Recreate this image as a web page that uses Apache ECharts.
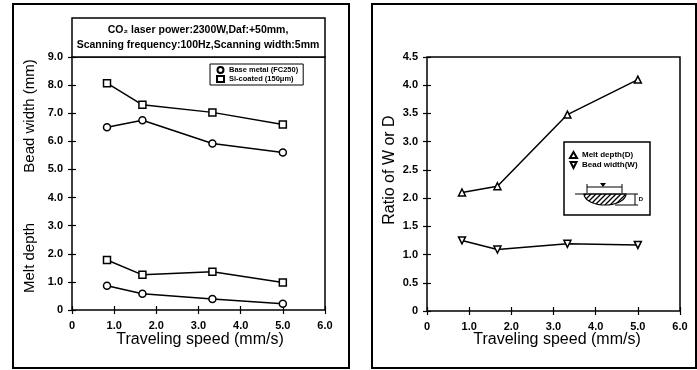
<!DOCTYPE html>
<html>
<head>
<meta charset="utf-8">
<script src="https://cdn.jsdelivr.net/npm/echarts@6/dist/echarts.min.js"></script>
<style>
  html, body { margin: 0; padding: 0; background: #fff; }
  #chart { width: 697px; height: 370px; }
</style>
</head>
<body>
<div id="chart"></div>
<script>
// traveling speed (mm/s)
const speed = [0.83, 1.67, 3.33, 5.0];
// left panel: bead width and melt depth (mm)
const widthBase = [6.5, 6.75, 5.92, 5.6];
const widthSi = [8.07, 7.3, 7.03, 6.6];
const depthBase = [0.86, 0.58, 0.39, 0.22];
const depthSi = [1.78, 1.25, 1.36, 0.98];
// right panel: ratio of W or D
const ratioD = [2.1, 2.21, 3.48, 4.1];
const ratioW = [1.25, 1.09, 1.19, 1.17];

const pairs = ys => speed.map((x, i) => [x, ys[i]]);
const fmt = v => v === 0 ? '0' : v.toFixed(1);
const lbl = { color: '#000', fontFamily: 'Liberation Sans', fontWeight: 'bold', fontSize: 11 };

function xAxes(grid, top) {
  return {
    gridIndex: grid, type: 'value', min: 0, max: 6, interval: 1,
    position: top ? 'top' : 'bottom',
    axisLine: { show: false },
    axisTick: { inside: true, length: 4, lineStyle: { color: '#000', width: 1.2 } },
    axisLabel: top ? { show: false } : Object.assign({ formatter: fmt, margin: 10 }, lbl),
    splitLine: { show: false }
  };
}
function yAxes(grid, max, step, right) {
  return {
    gridIndex: grid, type: 'value', min: 0, max: max, interval: step,
    position: right ? 'right' : 'left',
    axisLine: { show: false },
    axisTick: { inside: true, length: 4, lineStyle: { color: '#000', width: 1.2 } },
    axisLabel: right ? { show: false } : Object.assign({ formatter: fmt, margin: 9 }, lbl),
    splitLine: { show: false }
  };
}
function line(name, data, xi, yi, symbol, size, rotate) {
  return {
    name: name, type: 'line', xAxisIndex: xi, yAxisIndex: yi, data: pairs(data),
    symbol: symbol, symbolSize: size, symbolRotate: rotate || 0,
    lineStyle: { color: '#000', width: 1.5 },
    itemStyle: { color: '#fff', borderColor: '#000', borderWidth: 1.5 },
    animation: false
  };
}

// hatch pattern for the bead sketch
const hatch = document.createElement('canvas');
hatch.width = 5; hatch.height = 5;
const hc = hatch.getContext('2d');
hc.strokeStyle = '#000'; hc.lineWidth = 1.3;
hc.beginPath(); hc.moveTo(0, 5); hc.lineTo(5, 0); hc.moveTo(-1, 1); hc.lineTo(1, -1); hc.moveTo(4, 6); hc.lineTo(6, 4); hc.stroke();

// half-ellipse outline of the bead cross section (sketch only)
const bowl = [];
for (let a = 0; a <= 180; a += 10) {
  const r = a * Math.PI / 180;
  bowl.push([605 + 21 * Math.cos(r), 194 + 11 * Math.sin(r)]);
}

const legendText = { color: '#000', fontFamily: 'Liberation Sans', fontWeight: 'bold', fontSize: 8 };
const chart = echarts.init(document.getElementById('chart'));
chart.setOption({
  animation: false,
  grid: [
    { left: 72, right: 372, top: 57, bottom: 60, show: true, borderColor: '#000', borderWidth: 1.5 },
    { left: 427, right: 17, top: 57, bottom: 59, show: true, borderColor: '#000', borderWidth: 1.5 }
  ],
  xAxis: [xAxes(0, false), xAxes(0, true), xAxes(1, false), xAxes(1, true)],
  yAxis: [yAxes(0, 9, 1, false), yAxes(0, 9, 1, true), yAxes(1, 4.5, 0.5, false), yAxes(1, 4.5, 0.5, true)],
  legend: [
    {
      left: 210, top: 64, width: 102, height: 23, orient: 'vertical', itemGap: 1, itemWidth: 7, itemHeight: 6,
      padding: [2, 5, 2, 6], borderColor: '#000', borderWidth: 1,
      data: [{ name: 'Base metal (FC250)', icon: 'circle' }, { name: 'Si-coated (150μm)', icon: 'rect' }],
      textStyle: Object.assign({}, legendText, { fontSize: 7.5 }),
      selectedMode: false
    },
    {
      left: 569, top: 151, orient: 'vertical', itemGap: 2, itemWidth: 7, itemHeight: 6,
      padding: 0,
      data: [{ name: 'Melt depth(D)', icon: 'triangle' }, { name: 'Bead width(W)', icon: 'path://M0,0L10,0L5,10Z' }],
      textStyle: legendText,
      selectedMode: false
    }
  ],
  series: [
    line('Base metal (FC250)', widthBase, 0, 0, 'circle', 7),
    line('Si-coated (150μm)', widthSi, 0, 0, 'rect', 7),
    line('Base metal (FC250)', depthBase, 0, 0, 'circle', 7),
    line('Si-coated (150μm)', depthSi, 0, 0, 'rect', 7),
    line('Melt depth(D)', ratioD, 2, 2, 'triangle', 7),
    line('Bead width(W)', ratioW, 2, 2, 'triangle', 7, 180)
  ],
  graphic: [
    // panel frames
    { type: 'rect', shape: { x: 13, y: 4, width: 336, height: 364 }, style: { fill: 'none', stroke: '#000', lineWidth: 2 }, silent: true },
    { type: 'rect', shape: { x: 372, y: 4, width: 324, height: 364 }, style: { fill: 'none', stroke: '#000', lineWidth: 2 }, silent: true },
    // header box
    { type: 'rect', shape: { x: 72, y: 18, width: 253, height: 39 }, style: { fill: '#fff', stroke: '#000', lineWidth: 1.5 }, silent: true },
    { type: 'text', x: 198, y: 30, style: { text: 'CO₂ laser power:2300W,Daf:+50mm,', fill: '#000', font: 'bold 10.5px "Liberation Sans"', align: 'center', verticalAlign: 'middle' } },
    { type: 'text', x: 198, y: 45, style: { text: 'Scanning frequency:100Hz,Scanning width:5mm', fill: '#000', font: 'bold 10.5px "Liberation Sans"', align: 'center', verticalAlign: 'middle' } },
    // axis titles
    { type: 'text', x: 30, y: 116, rotation: Math.PI / 2, style: { text: 'Bead width (mm)', align: 'center', verticalAlign: 'middle', fill: '#000', font: '15px "Liberation Sans"' } },
    { type: 'text', x: 30, y: 258, rotation: Math.PI / 2, style: { text: 'Melt depth', align: 'center', verticalAlign: 'middle', fill: '#000', font: '15px "Liberation Sans"' } },
    { type: 'text', x: 390, y: 170, rotation: Math.PI / 2, style: { text: 'Ratio of W or D', align: 'center', verticalAlign: 'middle', fill: '#000', font: '16px "Liberation Sans"' } },
    { type: 'text', x: 200, y: 340, style: { text: 'Traveling speed (mm/s)', align: 'center', verticalAlign: 'middle', fill: '#000', font: '16px "Liberation Sans"' } },
    { type: 'text', x: 557, y: 340, style: { text: 'Traveling speed (mm/s)', align: 'center', verticalAlign: 'middle', fill: '#000', font: '16px "Liberation Sans"' } },
    // right legend box with bead sketch
    { type: 'rect', shape: { x: 564, y: 142, width: 86, height: 73 }, style: { fill: 'none', stroke: '#000', lineWidth: 1.5 }, silent: true },
    { type: 'polygon', shape: { points: bowl }, style: { fill: { image: hatch, repeat: 'repeat' }, stroke: '#000', lineWidth: 1.2 } },
    { type: 'line', shape: { x1: 575, y1: 194, x2: 638, y2: 194 }, style: { stroke: '#000', lineWidth: 1.2 } },
    { type: 'line', shape: { x1: 587, y1: 187, x2: 622, y2: 187 }, style: { stroke: '#000', lineWidth: 1 } },
    { type: 'line', shape: { x1: 587, y1: 184, x2: 587, y2: 193 }, style: { stroke: '#000', lineWidth: 1 } },
    { type: 'line', shape: { x1: 622, y1: 184, x2: 622, y2: 193 }, style: { stroke: '#000', lineWidth: 1 } },
    { type: 'polygon', shape: { points: [[600, 183], [606, 183], [603, 187]] }, style: { fill: '#000' } },
    { type: 'line', shape: { x1: 615, y1: 205, x2: 638, y2: 205 }, style: { stroke: '#000', lineWidth: 1 } },
    { type: 'line', shape: { x1: 635, y1: 194, x2: 635, y2: 205 }, style: { stroke: '#000', lineWidth: 1 } },
    { type: 'text', x: 641, y: 199, style: { text: 'D', fill: '#000', font: 'bold 6px "Liberation Sans"', align: 'center', verticalAlign: 'middle' } }
  ]
});
</script>
</body>
</html>
